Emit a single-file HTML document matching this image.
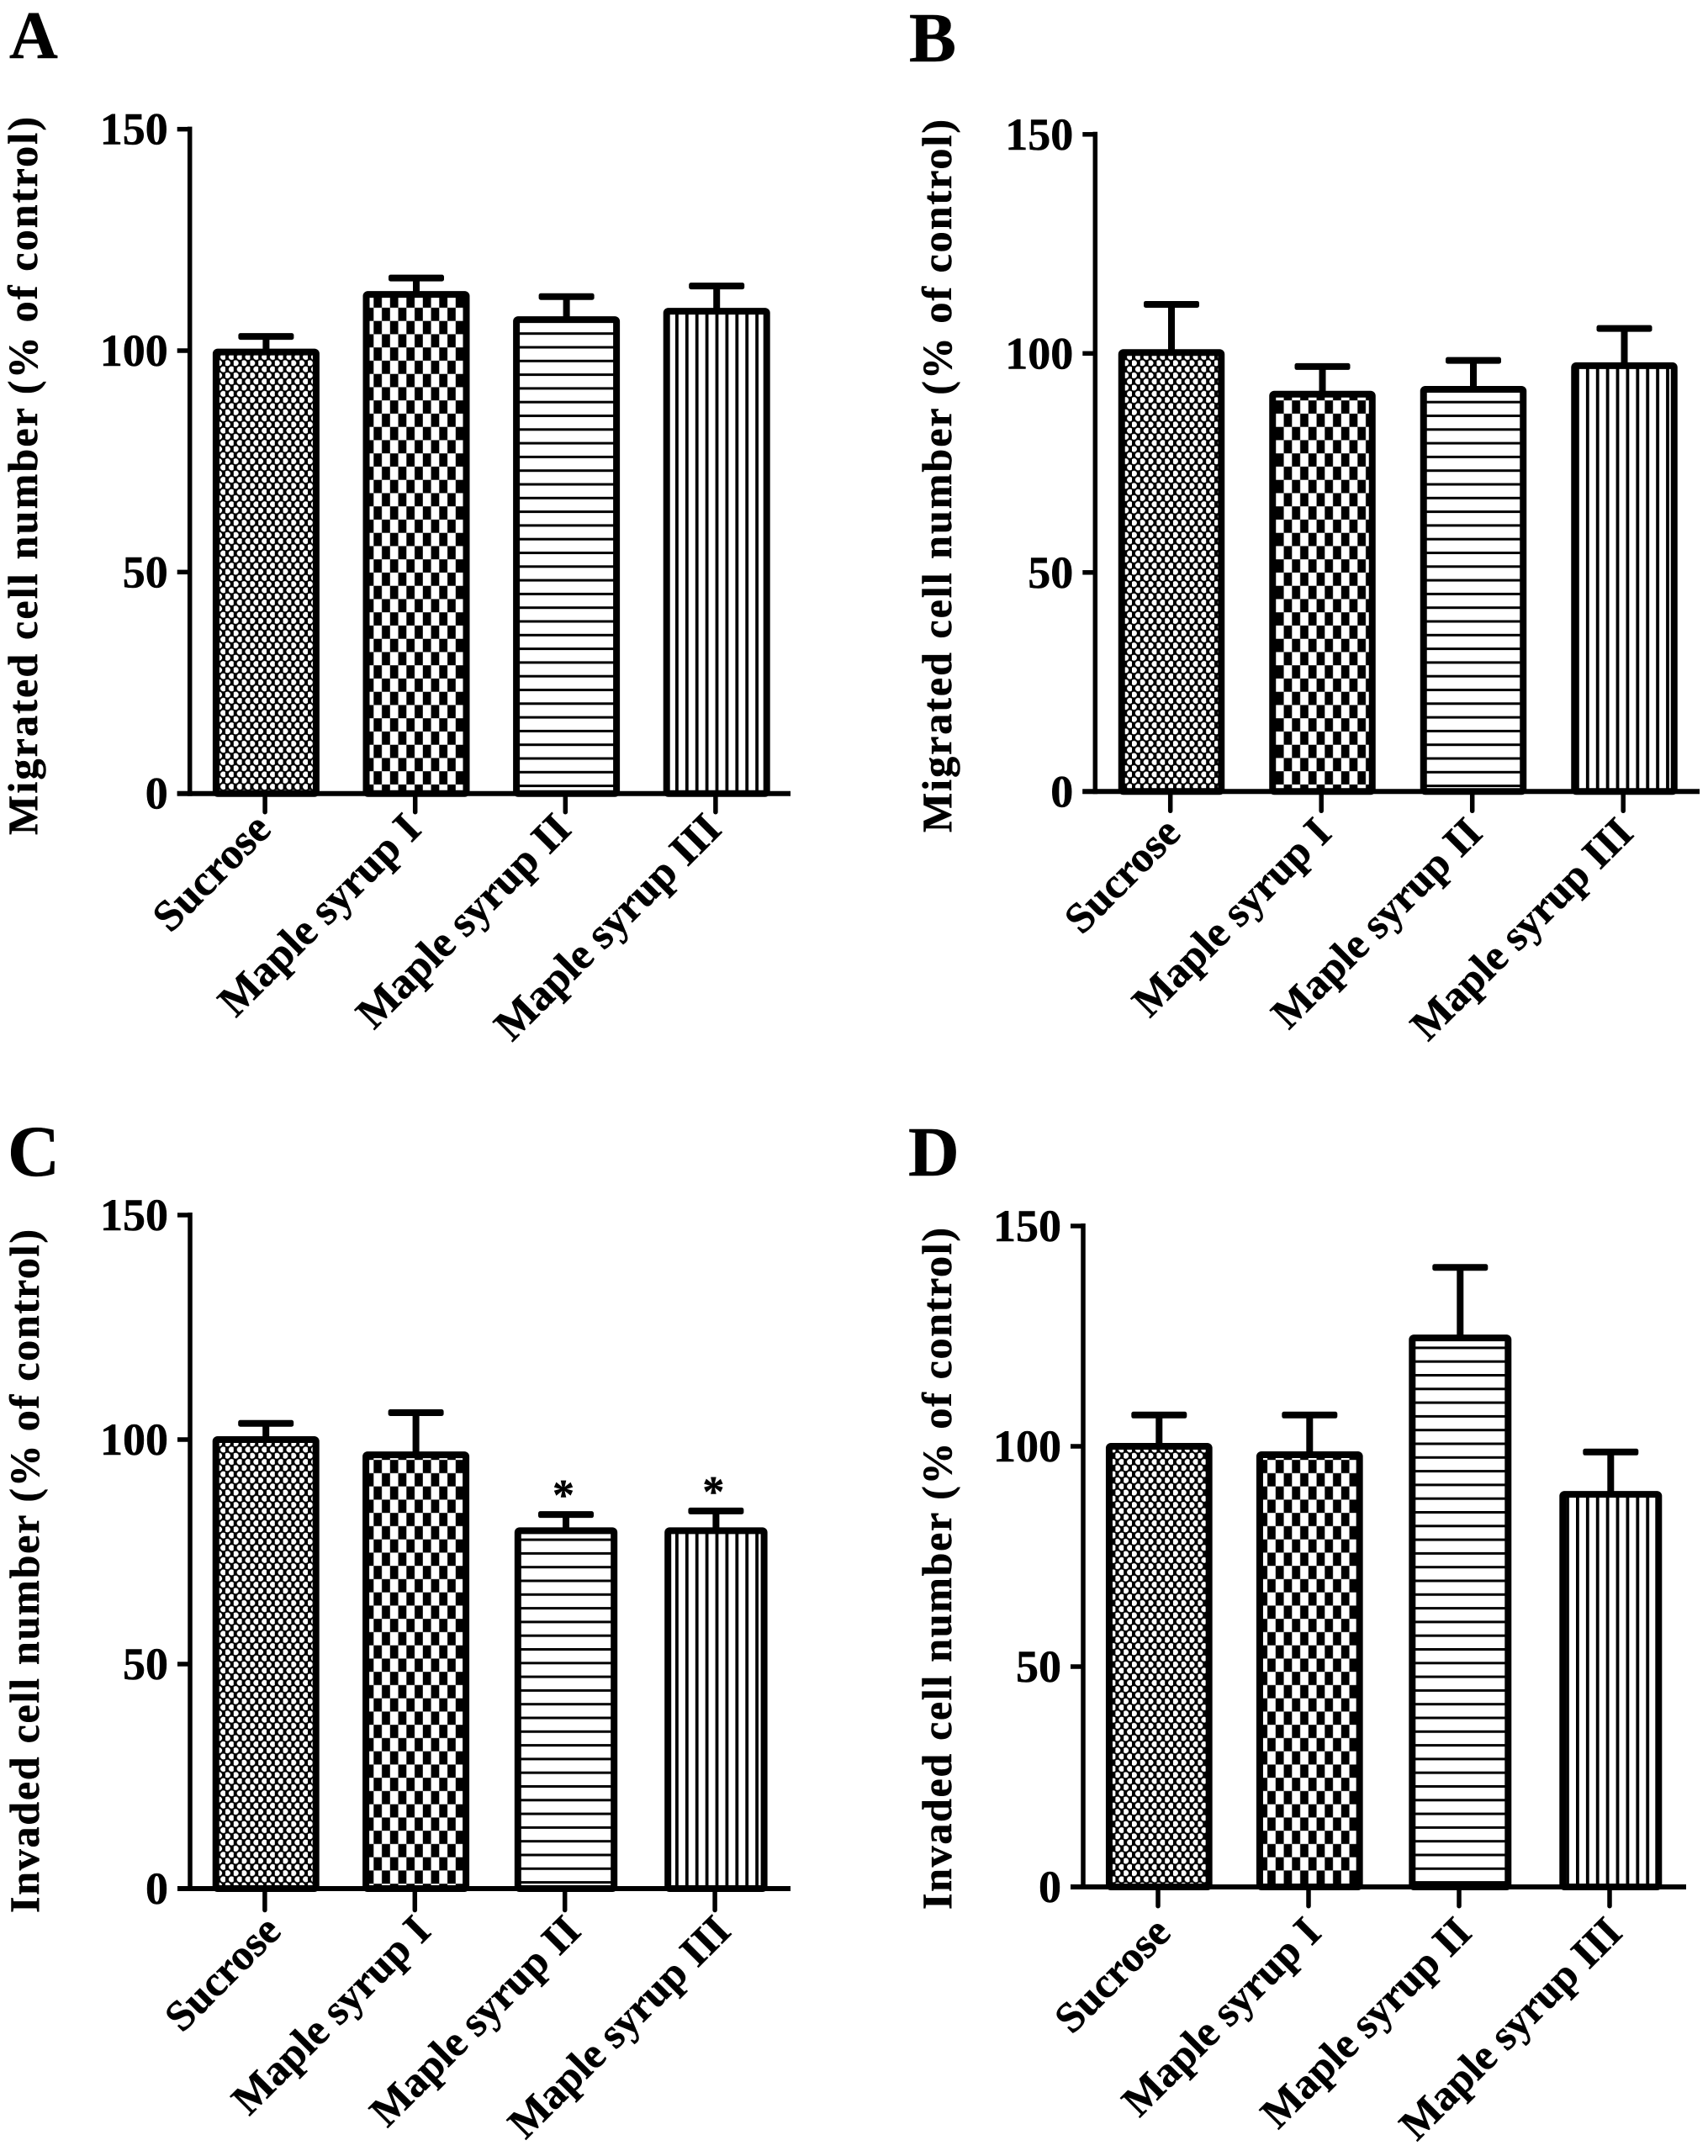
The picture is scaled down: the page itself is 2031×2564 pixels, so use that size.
<!DOCTYPE html>
<html lang="en">
<head>
<meta charset="utf-8">
<title>Migrated and invaded cell number charts</title>
<style>
html,body{margin:0;padding:0;background:#fff;}
svg{display:block;}
text{font-family:"Liberation Serif",serif;font-weight:bold;fill:#000;stroke:#000;stroke-width:0.5px;}
</style>
</head>
<body>
<svg id="figure" xmlns="http://www.w3.org/2000/svg" width="2031" height="2564" viewBox="0 0 2031 2564">
  <defs>
    <pattern id="fill-dots" patternUnits="userSpaceOnUse" width="9.8" height="14.6" patternTransform="translate(268 326)">
      <rect width="9.8" height="14.6" fill="#000"/>
      <circle cx="2.45" cy="3.65" r="3.5" fill="#fff"/>
      <circle cx="7.35" cy="10.95" r="3.5" fill="#fff"/>
    </pattern>
    <pattern id="fill-checker" patternUnits="userSpaceOnUse" width="19.5" height="31.5" patternTransform="translate(444.3 381.7)">
      <rect width="19.5" height="31.5" fill="#fff"/>
      <rect x="0" y="0" width="9.75" height="15.75" fill="#000"/>
      <rect x="9.75" y="15.75" width="9.75" height="15.75" fill="#000"/>
    </pattern>
    <pattern id="fill-hlines" patternUnits="userSpaceOnUse" width="20" height="16.3" patternTransform="translate(0 395.2)">
      <rect width="20" height="16.3" fill="#fff"/>
      <rect width="20" height="3" fill="#000"/>
    </pattern>
    <pattern id="fill-vlines" patternUnits="userSpaceOnUse" width="11.9" height="20" patternTransform="translate(803 0)">
      <rect width="11.9" height="20" fill="#fff"/>
      <rect width="3.8" height="20" fill="#000"/>
    </pattern>
  </defs>
</svg>
<script>
const categories = ['Sucrose', 'Maple syrup I', 'Maple syrup II', 'Maple syrup III'];
const yTickValues = [0, 50, 100, 150];
const yTickLabels = ['0', '50', '100', '150'];

const panelAMeans = [99.7, 112.7, 107, 108.9];
const panelAUpper = [103.2, 116.4, 112.2, 114.6];
const panelASignificant = ['', '', '', ''];

const panelBMeans = [100.2, 90.7, 91.8, 97.2];
const panelBUpper = [111.2, 97, 98.4, 105.7];
const panelBSignificant = ['', '', '', ''];

const panelCMeans = [100, 96.6, 79.7, 79.7];
const panelCUpper = [103.6, 106, 83.3, 84.1];
const panelCSignificant = ['', '', '*', '*'];

const panelDMeans = [100, 98.1, 124.6, 89.1];
const panelDUpper = [107.1, 107.1, 140.6, 98.7];
const panelDSignificant = ['', '', '', ''];

const fills = ['fill-dots', 'fill-checker', 'fill-hlines', 'fill-vlines'];
const NS = 'http://www.w3.org/2000/svg';
const svg = document.getElementById('figure');

function make(parent, tag, attrs, content) {
  const el = document.createElementNS(NS, tag);
  for (const k in attrs) el.setAttribute(k, attrs[k]);
  if (content !== undefined) el.textContent = content;
  parent.appendChild(el);
  return el;
}

function drawPanel(p) {
  const g = make(svg, 'g', {});
  
  

  const yScale = v => p.y0 - v * p.unit;
  const xScale = i => p.firstX + i * p.step;

  const letter = make(g, 'text', {x: p.letterX, y: p.letterY, 'font-size': p.letterSize}, p.letter);
  
  

  const title = make(g, 'text', {
    transform: 'translate(' + p.titleX + ' ' + p.titleBottom + ') rotate(-90)',
    'font-size': 50,
    textLength: p.titleBottom - p.titleTop
  }, p.title);
  
  

  p.means.forEach((m, i) => {
    const cx = xScale(i);
    const top = yScale(m);
    const capY = yScale(p.upper[i]);
    const w = i < 2 ? p.barWidth : p.narrowWidth;

    const stem = make(g, 'line', {x1: cx, x2: cx, y1: top, y2: capY, stroke: '#000', 'stroke-width': 8});
    
    

    const cap = make(g, 'rect', {x: cx - 33, y: capY - 4, width: 66, height: 8, rx: 2.5, fill: '#000'});
    
    

    const bar = make(g, 'rect', {
      x: cx - w / 2 + 4,
      y: top,
      width: w - 8,
      height: p.y0 - top,
      rx: 2,
      fill: 'url(#' + fills[i] + ')',
      stroke: '#000',
      'stroke-width': 8
    });
    
    

    if (p.significant[i]) {
      const star = make(g, 'text', {x: cx - 3, y: capY - 6, 'font-size': 52, 'text-anchor': 'middle'}, p.significant[i]);
      
      
    }

    const tick = make(g, 'line', {x1: cx - 1.3, x2: cx - 1.3, y1: p.y0, y2: p.y0 + p.tickLength, stroke: '#000', 'stroke-width': 5.5, 'stroke-linecap': 'round'});
    
    

    const label = make(g, 'text', {
      transform: 'translate(' + (cx + p.labelDx) + ' ' + (p.y0 + p.labelDy) + ') rotate(-45)',
      'font-size': p.labelSize,
      'text-anchor': 'end'
    }, categories[i]);
    
    
  });

  const yAxis = make(g, 'line', {x1: p.axisX, x2: p.axisX, y1: yScale(150) - 3, y2: p.y0 + 3, stroke: '#000', 'stroke-width': 5.5});
  
  

  const xAxis = make(g, 'line', {x1: p.axisX - 15, x2: p.axisEnd, y1: p.y0, y2: p.y0, stroke: '#000', 'stroke-width': 6});
  
  

  yTickValues.forEach((v, i) => {
    const tick = make(g, 'line', {x1: p.axisX - 15, x2: p.axisX, y1: yScale(v), y2: yScale(v), stroke: '#000', 'stroke-width': 5.5});
    
    

    const label = make(g, 'text', {x: p.axisX - 26, y: yScale(v) + 18, 'font-size': 54, 'text-anchor': 'end'}, yTickLabels[i]);
    
    
  });
}

drawPanel({
  id: 'a', letter: 'A', letterX: 11, letterY: 69, letterSize: 80,
  title: 'Migrated cell number (% of control)', titleX: 44, titleTop: 139, titleBottom: 993,
  means: panelAMeans, upper: panelAUpper, significant: panelASignificant,
  y0: 943.7, unit: 5.267, firstX: 316.4, step: 178.6, barWidth: 127, narrowWidth: 127, tickLength: 22,
  axisX: 225.7, axisEnd: 940, labelDx: 8, labelDy: 45, labelSize: 52
});
drawPanel({
  id: 'b', letter: 'B', letterX: 1081, letterY: 73, letterSize: 84,
  title: 'Migrated cell number (% of control)', titleX: 1131, titleTop: 142, titleBottom: 990,
  means: panelBMeans, upper: panelBUpper, significant: panelBSignificant,
  y0: 941.3, unit: 5.21, firstX: 1393, step: 179.5, barWidth: 126.5, narrowWidth: 126.5, tickLength: 23,
  axisX: 1302.3, axisEnd: 2021, labelDx: 13, labelDy: 52, labelSize: 51
});
drawPanel({
  id: 'c', letter: 'C', letterX: 9, letterY: 1398, letterSize: 86,
  title: 'Invaded cell number (% of control)', titleX: 46, titleTop: 1462, titleBottom: 2275,
  means: panelCMeans, upper: panelCUpper, significant: panelCSignificant,
  y0: 2246, unit: 5.34, firstX: 316.2, step: 178.4, barWidth: 127, narrowWidth: 122.4, tickLength: 25.5,
  axisX: 226, axisEnd: 940, labelDx: 20, labelDy: 53, labelSize: 51
});
drawPanel({
  id: 'd', letter: 'D', letterX: 1080, letterY: 1398, letterSize: 84,
  title: 'Invaded cell number (% of control)', titleX: 1131, titleTop: 1460, titleBottom: 2271,
  means: panelDMeans, upper: panelDUpper, significant: panelDSignificant,
  y0: 2244, unit: 5.24, firstX: 1378.3, step: 179, barWidth: 126.7, narrowWidth: 122, tickLength: 22.7,
  axisX: 1288, axisEnd: 2005, labelDx: 16, labelDy: 57, labelSize: 51
});
</script>
</body>
</html>
